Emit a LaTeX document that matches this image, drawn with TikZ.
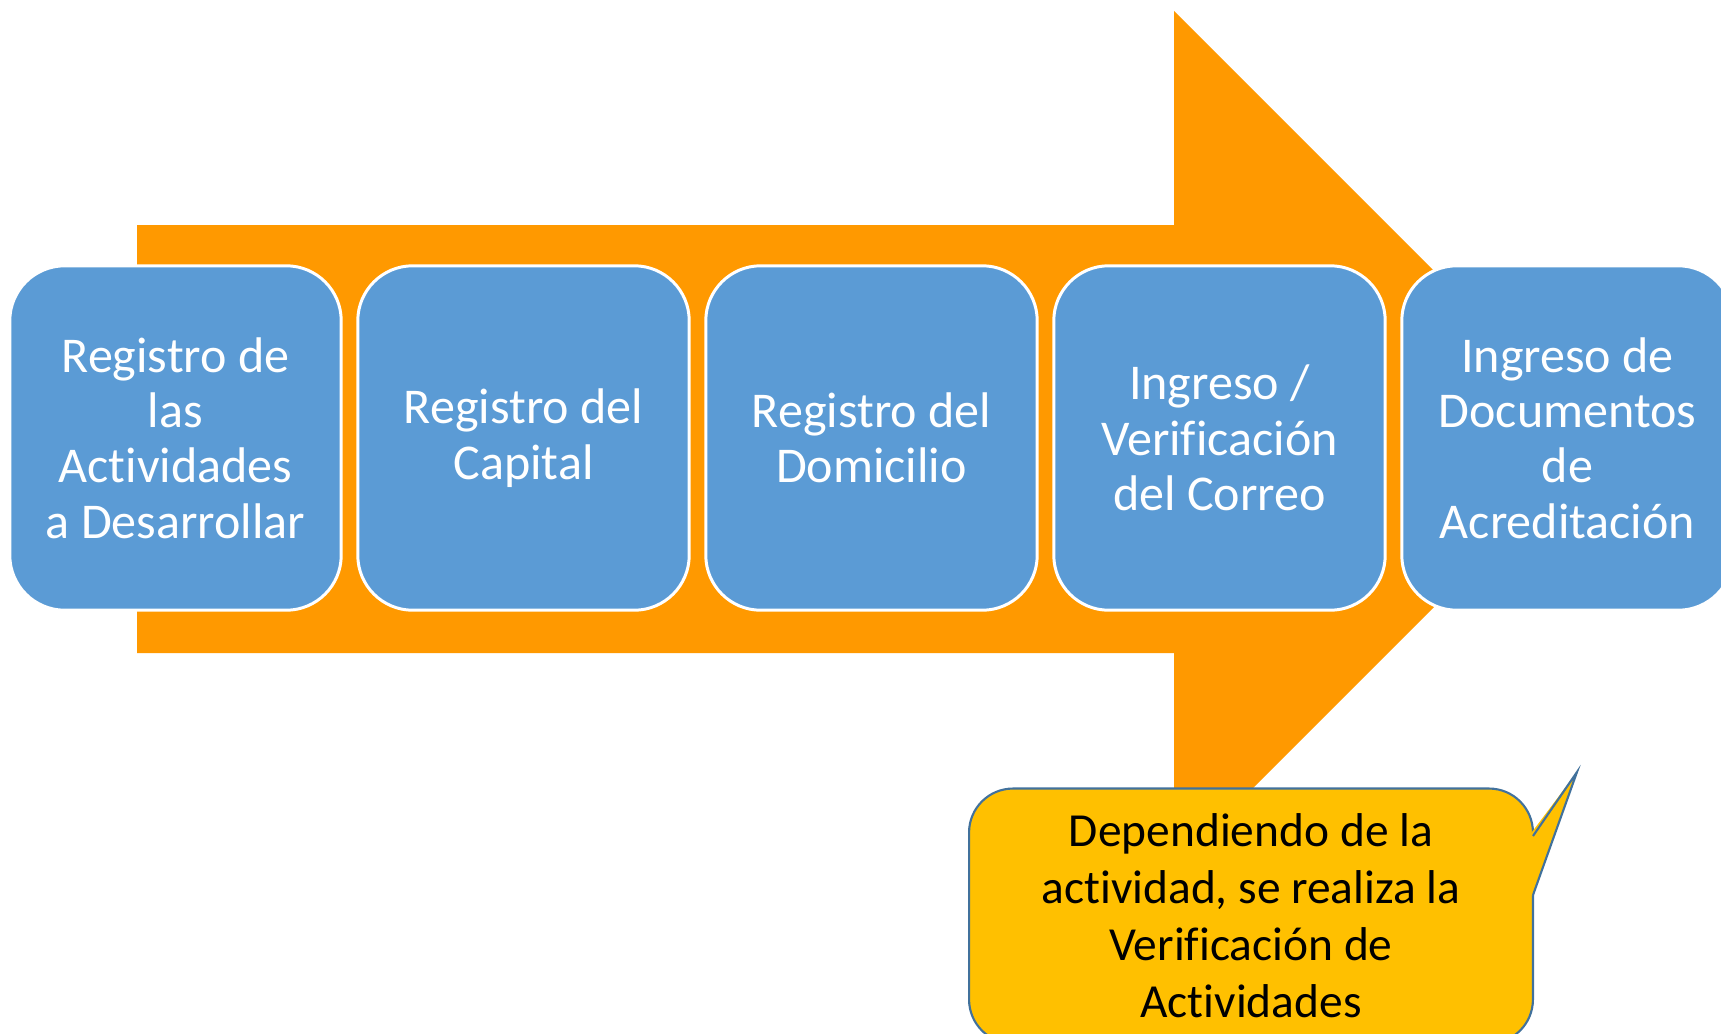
\documentclass[tikz,border=0pt]{standalone}
\usepackage{fontspec}
\setmainfont[Ligatures={NoCommon,NoRare,NoContextual}]{Carlito}
\usepackage{tikz}
\usetikzlibrary{positioning}

\definecolor{flecha}{RGB}{255,153,0}
\definecolor{caja}{RGB}{91,155,213}
\definecolor{nota}{RGB}{255,192,0}
\definecolor{notaborde}{RGB}{65,113,156}

\tikzset{
  pasobox/.style={rectangle, rounded corners=1.1cm, fill=caja, draw=white,
    line width=1.7pt, minimum width=6.63cm, minimum height=6.89cm,
    align=center, text=white, font=\fontsize{28.5}{31.5}\selectfont},
  notabox/.style={rectangle, rounded corners=0.88cm, fill=nota, draw=notaborde,
    line width=1.2pt, minimum width=11.28cm, minimum height=5.1cm,
    align=center, text=black, font=\fontsize{27}{32.4}\selectfont}
}

\begin{document}
\begin{tikzpicture}[x=0.02cm, y=-0.02cm]

\useasboundingbox (0,0) rectangle (1721,1034);
\clip (0,0) rectangle (1721,1034);

% Flecha de fondo
\fill [flecha] (137,225) -- (1174,225) -- (1174,11) -- (1602,439)
  -- (1174,867) -- (1174,653) -- (137,653) -- cycle;

% Pasos
\node [pasobox] (actividades) at (175.5,438) {Registro de\\las\\Actividades\\a Desarrollar};
\node [pasobox] (capital) at (523.5,438) {Registro del\\Capital};
\node [pasobox] (domicilio) at (871.5,438) {Registro del\\Domicilio};
\node [pasobox] (correo) at (1219.5,438) {Ingreso /\\Verificación\\del Correo};
\node [pasobox] (documentos) at (1567.5,438) {Ingreso de\\Documentos\\de\\Acreditación};

% Nota
\node [notabox] (verificacion) at (1251,916) {Dependiendo de la\\actividad, se realiza la\\Verificación de\\Actividades};
\coordinate (punta) at (1577,772);
\fill [nota] (1529,836) -- (punta) -- (1533,895) -- (1529,895) -- cycle;
\draw [notaborde, line width=1.2pt] (1533,836) -- (punta) -- (1533,895);

\end{tikzpicture}
\end{document}
